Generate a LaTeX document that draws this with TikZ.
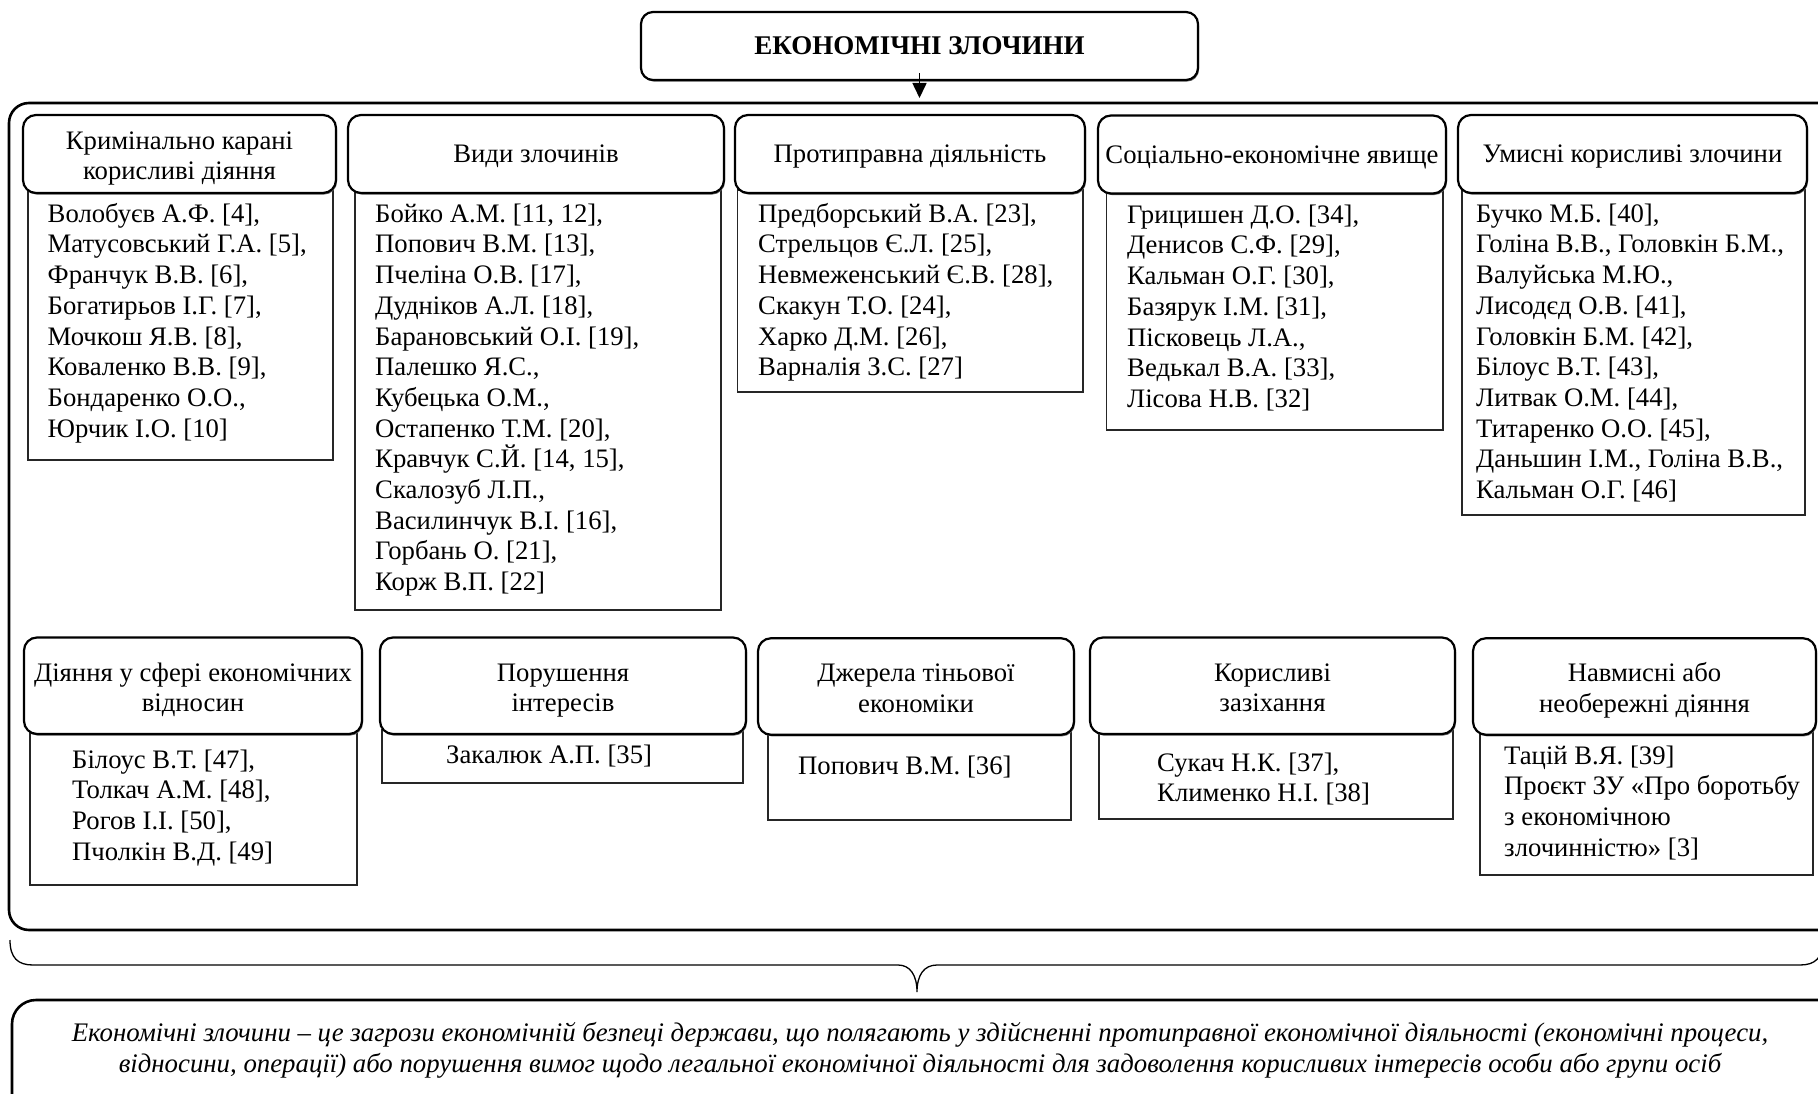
\documentclass[tikz,border=0pt]{standalone}
\usepackage{fontspec}
\setmainfont{Liberation Serif}
\usetikzlibrary{arrows.meta,shadows}
\newcommand\bodyf{\fontsize{26.7}{30.7}\selectfont}
\newcommand\hdrf{\fontsize{26.7}{30.7}\selectfont}
\newcommand\ttlf{\fontsize{27}{30}\selectfont\bfseries}
\newcommand\deff{\fontsize{26.8}{31}\selectfont\itshape}
\newcommand\fl{\rule{0pt}{21pt}}
\begin{document}
\begin{tikzpicture}[x=1pt,y=-1pt,
  hdr/.style={draw, fill=white, line width=2.2pt, rounded corners=13pt, align=center, inner sep=0pt, font=\hdrf,
    text height=18pt, text depth=0pt,
    drop shadow={shadow xshift=1pt, shadow yshift=-1.6pt, fill=black!60, opacity=1}},
  two/.style={text height=52pt, text depth=0pt},
  cbox/.style={draw=black!85, fill=white, line width=1.2pt, inner sep=0pt},
  ctext/.style={anchor=north west, align=left, inner sep=0pt, font=\bodyf},
  bigbox/.style={draw, line width=2.6pt, rounded corners=20pt, inner sep=0pt},
]
\useasboundingbox (0,0) rectangle (1818,1094);

% title and outer frame
\node[hdr, font=\ttlf, rounded corners=12pt, minimum width=557pt, minimum height=68pt] (title) at (919.5,46) {ЕКОНОМІЧНІ ЗЛОЧИНИ};
\node[bigbox, minimum width=1831pt, minimum height=827pt] (outer) at (924.5,516.5) {};
\coordinate (atip) at (919.5,98);
\draw[line width=1.6pt, -{Triangle[width=14pt,length=15pt]}, shorten <=-8pt] (title.south) -- (atip);

% content boxes (top row)
\node[cbox, minimum width=305pt, minimum height=270pt] (c1) at (180.5,325) {};
\node[cbox, minimum width=366pt, minimum height=420pt] (c2) at (538,400) {};
\node[cbox, minimum width=345.5pt, minimum height=202pt] (c3) at (910.25,291) {};
\node[cbox, minimum width=336.5pt, minimum height=240pt] (c4) at (1274.75,310) {};
\node[cbox, minimum width=343pt, minimum height=325pt] (c5) at (1633.5,352.5) {};
% content boxes (bottom row)
\node[cbox, minimum width=327pt, minimum height=155pt] (c6) at (193.5,807.5) {};
\node[cbox, minimum width=361pt, minimum height=53pt] (c7) at (562.5,756.5) {};
\node[cbox, minimum width=303pt, minimum height=90pt] (c8) at (919.5,775) {};
\node[cbox, minimum width=354pt, minimum height=89pt] (c9) at (1276,774.5) {};
\node[cbox, minimum width=333pt, minimum height=145pt] (c10) at (1646.5,802.5) {};

% headers
\node[hdr, two, minimum width=313pt, minimum height=78pt] (h1) at (179.5,154) {Кримінально карані\\корисливі діяння};
\node[hdr, minimum width=376pt, minimum height=78pt] (h2) at (536,154) {Види злочинів};
\node[hdr, minimum width=350pt, minimum height=78pt] (h3) at (910,154) {Протиправна діяльність};
\node[hdr, minimum width=348pt, minimum height=78pt] (h4) at (1272,154.5) {Соціально-економічне явище};
\node[hdr, minimum width=349pt, minimum height=78pt] (h5) at (1632.5,154) {Умисні корисливі злочини};
\node[hdr, two, minimum width=338pt, minimum height=96.5pt] (h6) at (193,685.75) {Діяння у сфері економічних\\відносин};
\node[hdr, two, minimum width=366pt, minimum height=96.5pt] (h7) at (563,685.75) {Порушення\\інтересів};
\node[hdr, two, minimum width=316pt, minimum height=96.5pt] (h8) at (916,686.5) {Джерела тіньової\\економіки};
\node[hdr, two, minimum width=365pt, minimum height=96.5pt] (h9) at (1272.5,685.75) {Корисливі\\зазіхання};
\node[hdr, two, minimum width=343pt, minimum height=96.5pt] (h10) at (1644.5,686.5) {Навмисні або\\необережні діяння};

% texts
\node[ctext] (t1) at (47.5,201) {\fl Волобуєв А.Ф. [4],\\Матусовський Г.А. [5],\\Франчук В.В. [6],\\Богатирьов І.Г. [7],\\Мочкош Я.В. [8],\\Коваленко В.В. [9],\\Бондаренко О.О.,\\Юрчик І.О. [10]};
\node[ctext] (t2) at (375,201) {\fl Бойко А.М. [11, 12],\\Попович В.М. [13],\\Пчеліна О.В. [17],\\Дудніков А.Л. [18],\\Барановський О.І. [19],\\Палешко Я.С.,\\Кубецька О.М.,\\Остапенко Т.М. [20],\\Кравчук С.Й. [14, 15],\\Скалозуб Л.П.,\\Василинчук В.І. [16],\\Горбань О. [21],\\Корж В.П. [22]};
\node[ctext] (t3) at (758,201) {\fl Предборський В.А. [23],\\Стрельцов Є.Л. [25],\\Невмеженський Є.В. [28],\\Скакун Т.О. [24],\\Харко Д.М. [26],\\Варналія З.С. [27]};
\node[ctext] (t4) at (1127,202) {\fl Грицишен Д.О. [34],\\Денисов С.Ф. [29],\\Кальман О.Г. [30],\\Базярук І.М. [31],\\Пісковець Л.А.,\\Ведькал В.А. [33],\\Лісова Н.В. [32]};
\node[ctext] (t5) at (1476,201) {\fl Бучко М.Б. [40],\\Голіна В.В., Головкін Б.М.,\\Валуйська М.Ю.,\\Лисодєд О.В. [41],\\Головкін Б.М. [42],\\Білоус В.Т. [43],\\Литвак О.М. [44],\\Титаренко О.О. [45],\\Даньшин І.М., Голіна В.В.,\\Кальман О.Г. [46]};
\node[ctext] (t6) at (72,747) {\fl Білоус В.Т. [47],\\Толкач А.М. [48],\\Рогов І.І. [50],\\Пчолкін В.Д. [49]};
\node[ctext] (t7) at (446,742) {\fl Закалюк А.П. [35]};
\node[ctext] (t8) at (798,753) {\fl Попович В.М. [36]};
\node[ctext] (t9) at (1157,750) {\fl Сукач Н.К. [37],\\Клименко Н.І. [38]};
\node[ctext] (t10) at (1504,743) {\fl Тацій В.Я. [39]\\Проєкт ЗУ «Про боротьбу\\з економічною\\злочинністю» [3]};

% brace
\draw[line width=1.3pt] (10,940) .. controls (10,958) and (18,965) .. (33,965) -- (898,965)
  .. controls (910,965) and (917,975) .. (917,992)
  .. controls (917,975) and (924,965) .. (937,965) -- (1800,965)
  .. controls (1815,965) and (1823,958) .. (1823,940);

% definition box
\node[bigbox, rounded corners=24pt, minimum width=1840pt, minimum height=120pt] (defbox) at (932,1060) {};
\node[font=\deff, align=center, inner sep=0pt] (deftext) at (920,1050) {Економічні злочини – це загрози економічній безпеці держави, що полягають у здійсненні протиправної економічної діяльності (економічні процеси,\\відносини, операції) або порушення вимог щодо легальної економічної діяльності для задоволення корисливих інтересів особи або групи осіб};
\end{tikzpicture}
\end{document}
